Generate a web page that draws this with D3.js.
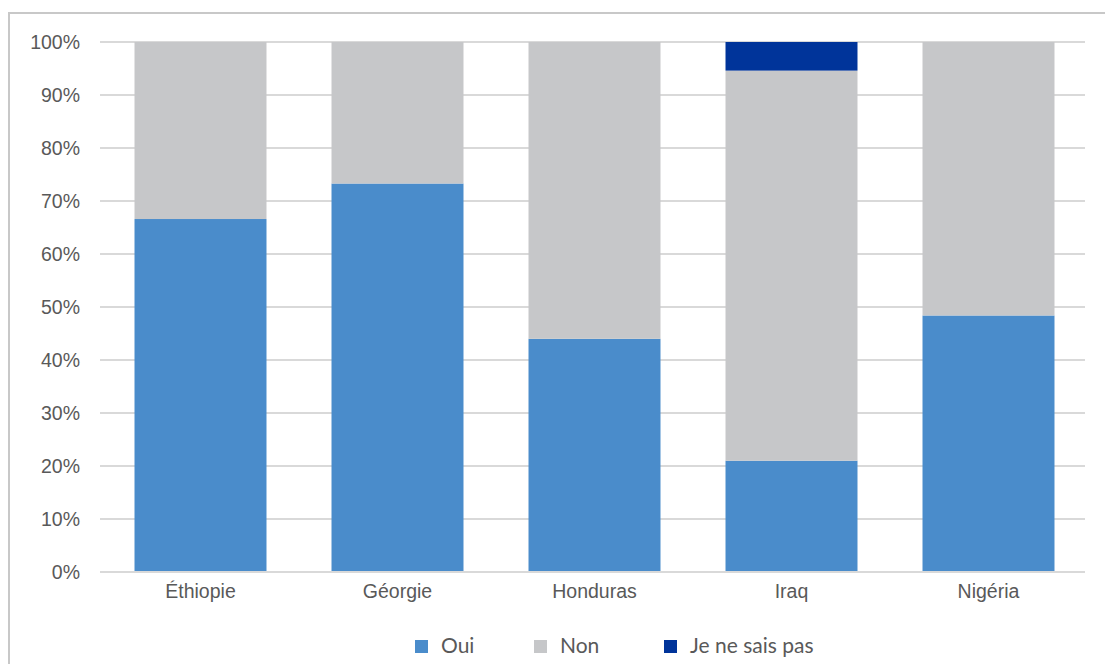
<!DOCTYPE html>
<html>
<head>
<meta charset="utf-8">
<script src="https://cdn.jsdelivr.net/npm/d3@7"></script>
<style>
  body { margin: 0; background: #fff; }
  svg { display: block; font-family: Lato, "Open Sans", sans-serif; }
  .axis text { fill: #595959; font-size: 19.5px; }
  .legend text { fill: #595959; font-size: 21px; }
</style>
</head>
<body>
<svg id="chart" width="1105" height="664"></svg>
<script>
// Categories and series (percent)
const countries = ['Éthiopie', 'Géorgie', 'Honduras', 'Iraq', 'Nigéria'];
const oui = [66.6, 73.3, 44.0, 21.0, 48.4];
const non = [33.4, 26.7, 56.0, 73.6, 51.6];
const nsp = [0, 0, 0, 5.4, 0];
const seriesNames = ['Oui', 'Non', 'Je ne sais pas'];
const seriesColors = ['#4a8ccb', '#c6c7c9', '#00349a'];
const yTicks = [0, 10, 20, 30, 40, 50, 60, 70, 80, 90, 100];

const svg = d3.select('#chart');

// Outer frame of the chart area
svg.append('path')
  .attr('d', 'M9,664 V13 H1105')
  .attr('fill', 'none')
  .attr('stroke', '#c8c8c8')
  .attr('stroke-width', 2);

const plot = { left: 100, right: 1085, top: 42, bottom: 572 };

const x = d3.scaleBand()
  .domain(countries)
  .range([plot.left + 2, plot.right + 2])
  .paddingInner(0.33)
  .paddingOuter(0.165);

const y = d3.scaleLinear()
  .domain([0, 100])
  .range([plot.bottom, plot.top]);

// Gridlines
svg.append('g')
  .selectAll('line')
  .data(yTicks)
  .join('line')
  .attr('x1', plot.left)
  .attr('x2', plot.right)
  .attr('y1', d => y(d))
  .attr('y2', d => y(d))
  .attr('stroke', '#d9d9d9')
  .attr('stroke-width', 2);

// Stacked data
const rows = countries.map((c, i) => ({ country: c, Oui: oui[i], Non: non[i], 'Je ne sais pas': nsp[i] }));
const stacked = d3.stack().keys(seriesNames)(rows);

svg.append('g')
  .selectAll('g')
  .data(stacked)
  .join('g')
  .attr('fill', (d, i) => seriesColors[i])
  .selectAll('rect')
  .data(d => d)
  .join('rect')
  .attr('x', d => x(d.data.country))
  .attr('width', x.bandwidth())
  .attr('y', d => y(d[1]))
  .attr('height', d => y(d[0]) - y(d[1]));

// Y axis labels
const yAxisG = svg.append('g')
  .attr('class', 'axis')
  .attr('transform', `translate(${plot.left},0)`)
  .call(d3.axisLeft(y).tickValues(yTicks).tickFormat(d => d + '%').tickSize(0).tickPadding(20));
yAxisG.select('.domain').remove();
yAxisG.selectAll('text').attr('font-family', null);

// X axis
const xAxisG = svg.append('g')
  .attr('class', 'axis')
  .attr('transform', `translate(0,${plot.bottom})`)
  .call(d3.axisBottom(x).tickSize(0).tickPadding(12));
xAxisG.select('.domain')
  .attr('stroke', '#d9d9d9')
  .attr('stroke-width', 2)
  .attr('d', `M${plot.left},0H${plot.right}`);
xAxisG.selectAll('text').attr('font-family', null);

// Legend
const legendX = [415, 534, 664];
const legend = svg.append('g')
  .attr('class', 'legend')
  .selectAll('g')
  .data(seriesNames)
  .join('g')
  .attr('transform', (d, i) => `translate(${legendX[i]},640)`);
legend.append('rect')
  .attr('width', 13)
  .attr('height', 13)
  .attr('fill', (d, i) => seriesColors[i]);
legend.append('text')
  .attr('x', 26)
  .attr('y', 13)
  .text(d => d);
</script>
</body>
</html>
